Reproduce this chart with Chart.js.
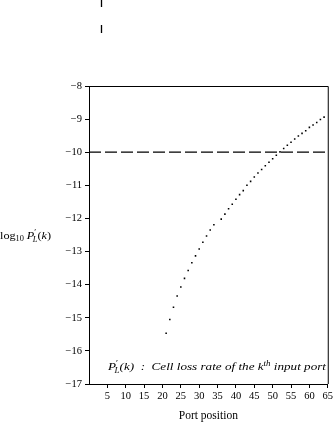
<!DOCTYPE html>
<html>
<head>
<meta charset="utf-8">
<script src="https://cdn.jsdelivr.net/npm/chart.js@4.4.0/dist/chart.umd.min.js"></script>
<style>
html,body{margin:0;padding:0;background:#fff;}
#wrap{width:335px;height:423px;position:relative;}
</style>
</head>
<body>
<div id="wrap"><canvas id="c"></canvas></div>
<script>
const ports = [21,22,23,24,25,26,27,28,29,30,31,32,33,34,36,37,38,39,40,41,42,43,44,45,46,47,48,49,50,51,52,53,54,55,56,57,58,59,60,61,62,63,64];
const lossLog = [-15.47,-15.05,-14.68,-14.34,-14.07,-13.81,-13.57,-13.34,-13.13,-12.92,-12.72,-12.53,-12.35,-12.19,-12.02,-11.87,-11.71,-11.57,-11.42,-11.28,-11.16,-11.00,-10.88,-10.75,-10.63,-10.52,-10.41,-10.30,-10.20,-10.09,-9.99,-9.89,-9.79,-9.70,-9.60,-9.51,-9.43,-9.35,-9.25,-9.18,-9.10,-9.01,-8.94];
const refLevel = -10;
const xTicks = [5,10,15,20,25,30,35,40,45,50,55,60,65];
const yTicks = [-8,-9,-10,-11,-12,-13,-14,-15,-16,-17];
const xRange = [0,65];
const yRange = [-17,-8];

const SERIF = '"Liberation Serif", "DejaVu Serif", serif';

function richWidth(ctx, pieces) {
  let w = 0;
  for (const p of pieces) { ctx.font = p.font; w += ctx.measureText(p.text).width + (p.kern || 0); }
  return w;
}
function drawRich(ctx, pieces, x, y, targetW) {
  const w = richWidth(ctx, pieces);
  const sx = targetW ? targetW / w : 1;
  ctx.save();
  ctx.translate(x, y);
  ctx.scale(sx, 1);
  let cx = 0;
  for (const p of pieces) {
    ctx.font = p.font;
    ctx.fillText(p.text, cx, p.dy || 0);
    cx += ctx.measureText(p.text).width + (p.kern || 0);
  }
  ctx.restore();
}

const extras = {
  id: 'extras',
  afterDraw(chart) {
    const ctx = chart.ctx;
    const a = chart.chartArea;
    ctx.save();
    ctx.strokeStyle = '#000';
    ctx.lineWidth = 1;
    ctx.beginPath();
    ctx.moveTo(a.left, a.top + 0.5);
    ctx.lineTo(a.right + 0.5, a.top + 0.5);
    ctx.lineTo(a.right + 0.5, a.bottom);
    ctx.stroke();

    // marks at top
    ctx.lineWidth = 1.3;
    ctx.beginPath();
    ctx.moveTo(101.5, 0); ctx.lineTo(101.5, 7);
    ctx.moveTo(101.5, 25); ctx.lineTo(101.5, 33);
    ctx.stroke();

    ctx.fillStyle = '#000';
    ctx.textBaseline = 'alphabetic';
    ctx.textAlign = 'left';
    // y axis title
    const yMid = (a.top + a.bottom) / 2 + 4;
    drawRich(ctx, [
      {text: 'log', font: '11px ' + SERIF},
      {text: '10', font: '7.5px ' + SERIF, dy: 2, kern: 2.5},
      {text: 'P', font: 'italic 11px ' + SERIF},
      {text: '\u2032', font: '8px ' + SERIF, dy: -4, kern: -3},
      {text: 'L', font: 'italic 7.5px ' + SERIF, dy: 2.5},
      {text: '(', font: '11px ' + SERIF},
      {text: 'k', font: 'italic 11px ' + SERIF},
      {text: ')', font: '11px ' + SERIF}
    ], 0, yMid, 51);

    // annotation
    const fs = 11;
    drawRich(ctx, [
      {text: 'P', font: 'italic ' + fs + 'px ' + SERIF},
      {text: '\u2032', font: '8px ' + SERIF, dy: -4, kern: -3},
      {text: 'L', font: 'italic 7.5px ' + SERIF, dy: 2.5},
      {text: '(k)  :  Cell loss rate of the k', font: 'italic ' + fs + 'px ' + SERIF},
      {text: 'th', font: 'italic 7.5px ' + SERIF, dy: -4.5},
      {text: ' input port', font: 'italic ' + fs + 'px ' + SERIF}
    ], 108, 370, 218);
    ctx.restore();
  }
};

new Chart(document.getElementById('c'), {
  type: 'scatter',
  data: {
    datasets: [
      {
        data: ports.map((p, i) => ({x: p, y: lossLog[i]})),
        showLine: false,
        pointRadius: 1.1,
        pointBackgroundColor: '#000',
        pointBorderWidth: 0,
        pointStyle: 'rect'
      },
      {
        data: [{x: xRange[0], y: refLevel}, {x: xRange[1], y: refLevel}],
        showLine: true,
        pointRadius: 0,
        borderColor: '#000',
        borderWidth: 1.2,
        borderDash: [12, 4]
      }
    ]
  },
  options: {
    responsive: true,
    maintainAspectRatio: false,
    devicePixelRatio: 1,
    animation: false,
    layout: {padding: {top: 86, right: 4, left: 0, bottom: 0}},
    plugins: {legend: {display: false}, tooltip: {enabled: false}},
    scales: {
      x: {
        type: 'linear',
        min: xRange[0], max: xRange[1],
        afterBuildTicks: s => { s.ticks = xTicks.map(v => ({value: v})); },
        afterFit: s => { s.height = 39; },
        ticks: {color: '#000', font: {family: SERIF, size: 10.5}, maxRotation: 0, autoSkip: false, padding: 2},
        grid: {drawOnChartArea: false, tickLength: 4, color: '#000'},
        border: {color: '#000', width: 1},
        title: {display: true, text: 'Port position', color: '#000', font: {family: SERIF, size: 11.5}, padding: {top: 3, bottom: 0}}
      },
      y: {
        type: 'linear',
        min: yRange[0], max: yRange[1],
        afterBuildTicks: s => { s.ticks = yTicks.map(v => ({value: v})); },
        afterFit: s => { s.width = 89; },
        ticks: {color: '#000', font: {family: SERIF, size: 10.5}, padding: 3, callback: v => '\u2212' + Math.abs(v)},
        grid: {drawOnChartArea: false, tickLength: 4, color: '#000'},
        border: {color: '#000', width: 1}
      }
    }
  },
  plugins: [extras]
});
</script>
</body>
</html>
